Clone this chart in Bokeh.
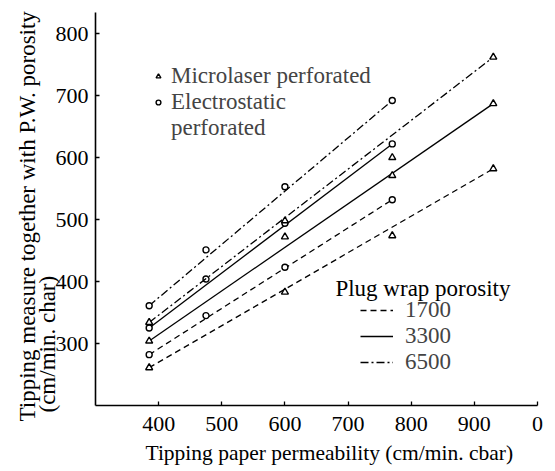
from bokeh.plotting import figure
from bokeh.models import Range1d, Label, Legend, LegendItem, FixedTicker, Title
from bokeh.embed import file_html
from bokeh.resources import INLINE

FONT = "Liberation Serif"

# Tipping paper permeability (cm/min. cbar)
electro_x = [385, 475, 600, 770]
micro_x = [385, 600, 770, 930]

# Tipping measure together with P.W. porosity (cm/min. cbar)
electro_1700 = [282, 345, 423, 532]
electro_3300 = [325, 404, 494, 622]
electro_6500 = [361, 451, 553, 692]
micro_1700 = [261, 383, 474, 582]
micro_3300 = [304, 472, 571, 687]
micro_6500 = [334, 498, 600, 762]

porosity_labels = ["1700", "3300", "6500"]
porosity_dash = ["6 4", "solid", "8 3 2 3"]

x_ticks = [400, 500, 600, 700, 800, 900, 1000]
x_tick_text = {1000: "0"}
y_ticks = [300, 400, 500, 600, 700, 800]

p = figure(frame_width=442, frame_height=393,
           min_border_left=95, min_border_right=18, min_border_top=12, min_border_bottom=66,
           x_range=Range1d(300, 1000), y_range=Range1d(200, 834),
           output_backend="svg", toolbar_location=None)
p.outline_line_color = None
p.grid.visible = False
p.background_fill_color = "white"

for ax in (p.xaxis[0], p.yaxis[0]):
    ax.axis_line_color = "black"
    ax.axis_line_width = 1.6
    ax.major_tick_in = 4
    ax.major_tick_out = 0
    ax.minor_tick_line_color = None
    ax.major_tick_line_width = 1.3
    ax.major_label_text_font = FONT
    ax.major_label_text_font_size = "22px"
    ax.major_label_text_color = "black"

p.xaxis[0].ticker = FixedTicker(ticks=x_ticks)
p.xaxis[0].major_label_overrides = x_tick_text
p.xaxis[0].major_label_standoff = 11
p.yaxis[0].ticker = FixedTicker(ticks=y_ticks)
p.yaxis[0].major_label_standoff = 7

electro_series = [electro_1700, electro_3300, electro_6500]
micro_series = [micro_1700, micro_3300, micro_6500]

micro_lines = []
tri_r = None
circ_r = None
for ys, dash in zip(electro_series, porosity_dash):
    p.line([electro_x[0], electro_x[-1]], [ys[0], ys[-1]], line_color="black",
           line_width=1.3, line_dash=dash)
    circ_r = p.scatter(electro_x, ys, marker="circle", size=6, fill_color="white",
                       line_color="black", line_width=1.4)
for ys, dash in zip(micro_series, porosity_dash):
    r = p.line([micro_x[0], micro_x[-1]], [ys[0], ys[-1]], line_color="black",
               line_width=1.3, line_dash=dash)
    micro_lines.append(r)
    tri_r = p.scatter(micro_x, ys, marker="triangle", size=7, fill_color="white",
                      line_color="black", line_width=1.4)

# invisible renderer used only for the wrapped second line of a legend label
blank_r = p.scatter([], [], marker="circle", size=1, fill_alpha=0, line_alpha=0)

# marker legend
leg1 = Legend(items=[LegendItem(label="Microlaser perforated", renderers=[tri_r]),
                     LegendItem(label="Electrostatic", renderers=[circ_r]),
                     LegendItem(label="perforated", renderers=[blank_r])],
              location=(57, 264), orientation="vertical",
              background_fill_alpha=0, border_line_color=None,
              padding=0, margin=0, spacing=0, glyph_width=12, glyph_height=20,
              label_standoff=7, label_text_font=FONT, label_text_font_size="23px",
              label_height=20)
p.add_layout(leg1)

# porosity legend
leg2 = Legend(items=[LegendItem(label=lab, renderers=[r]) for lab, r in zip(porosity_labels, micro_lines)],
              location=(265, 30), orientation="vertical",
              background_fill_alpha=0, border_line_color=None,
              padding=0, margin=0, spacing=0, glyph_width=33, glyph_height=20,
              label_standoff=12, label_text_font=FONT, label_text_font_size="23px",
              label_height=20)
p.add_layout(leg2)

p.add_layout(Label(x=680, y=389, text="Plug wrap porosity", text_font=FONT,
                   text_font_size="23px", text_baseline="middle", text_align="left",
                   text_color="black"))

# y axis title, two lines
p.add_layout(Title(text="(cm/min. char)", align="left", offset=-7, standoff=-14,
                   text_font=FONT, text_font_size="23px", text_font_style="normal",
                   text_color="black"), "left")
p.add_layout(Title(text="Tipping measure together with P.W. porosity", align="left",
                   offset=-16, standoff=0, text_font=FONT, text_font_size="23px",
                   text_font_style="normal", text_color="black"), "left")

# x axis title
p.add_layout(Title(text="Tipping paper permeability (cm/min. cbar)", align="left",
                   offset=50, standoff=10, text_font=FONT, text_font_size="21.5px",
                   text_font_style="normal", text_color="black"), "below")

open("out.html", "w").write(file_html(p, INLINE))
